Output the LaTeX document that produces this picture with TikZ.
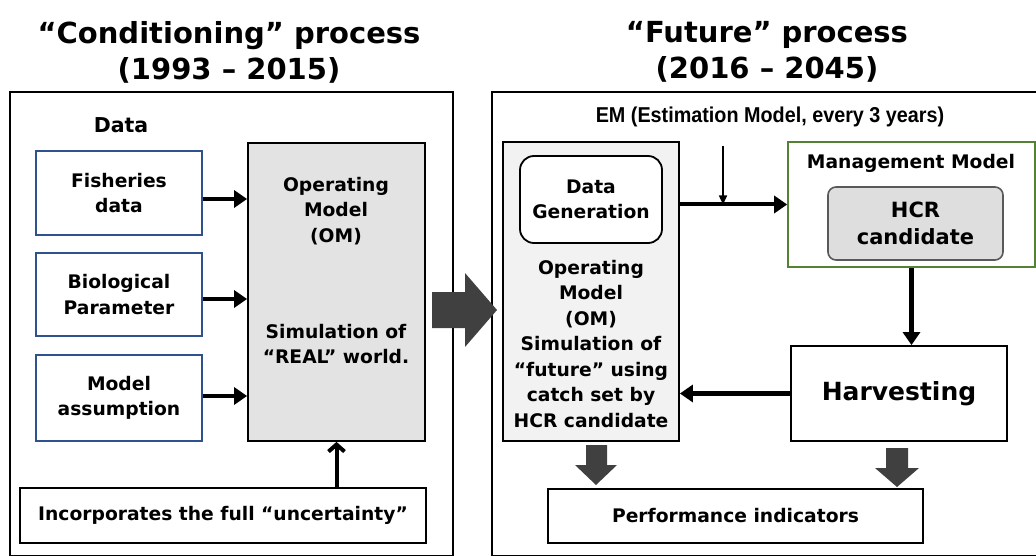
\documentclass[tikz,border=0pt]{standalone}
\usepackage{fontspec}
\setmainfont{DejaVu Sans}
\newfontfamily\narrowfont[FakeStretch=0.92]{Liberation Sans}
\usetikzlibrary{positioning,arrows.meta}
\definecolor{boxblue}{RGB}{47,82,143}
\definecolor{mgmtgreen}{RGB}{84,130,53}
\definecolor{blockgray}{RGB}{64,64,64}

\begin{document}
\begin{tikzpicture}[x=1pt,y=-1pt,
  every node/.style={font=\bfseries\fontsize{18.7}{25.5}\selectfont,align=center,inner sep=0pt},
  title/.style={font=\bfseries\fontsize{29}{36}\selectfont},
  frame/.style={draw,line width=2.6pt},
  databox/.style={draw=boxblue,line width=1.6pt,minimum width=166pt},
  plainbox/.style={draw,line width=1.8pt},
  flow/.style={line width=4pt,-{Triangle[length=13pt,width=17pt]}},
  thinflow/.style={line width=1.5pt,-{Triangle[length=9pt,width=8pt]}},
  block/.style={fill=blockgray}]
    \useasboundingbox (0,0) rectangle (1036,556);
    % titles and frames
    \node[title] (condtitle) at (229,52) {“Conditioning” process\\(1993 – 2015)};
    \node[title] (futtitle) at (767,52) {“Future” process\\(2016 – 2045)};
    \draw[frame] (10,92) rectangle (453,556.5);
    \draw[frame] (492,92) rectangle (1045,556.5);
    % conditioning side
    \node[font=\bfseries\fontsize{20.5}{25}\selectfont] (datalabel) at (121,125) {Data};
    \node[databox,minimum height=84pt] (fish) at (119,193) {Fisheries\\data};
    \node[databox,minimum height=83pt] (bio) at (119,294.5) {Biological\\Parameter};
    \node[databox,minimum height=86pt] (assum) at (119,398) {Model\\assumption};
    \node[plainbox,fill=black!11,minimum width=177pt,minimum height=298pt] (omcond) at (336.5,292) {};
    \node (omname) at (336,211) {Operating\\Model\\(OM)};
    \node (omreal) at (336,344) {Simulation of\\“REAL” world.};
    \node[plainbox,minimum width=406pt,minimum height=55pt] (uncert) at (223,515.5) {Incorporates the full “uncertainty”};
    \draw[flow] ([yshift=-6pt]fish.east) -- ([yshift=-6pt]fish.east -| omcond.west);
    \draw[flow] ([yshift=-4.5pt]bio.east) -- ([yshift=-4.5pt]bio.east -| omcond.west);
    \draw[flow] ([yshift=2pt]assum.east) -- ([yshift=2pt]assum.east -| omcond.west);
    \draw[line width=4pt,-{Straight Barb[length=7pt,width=16pt]}] (uncert.north -| omcond.south) -- (omcond.south);
    % big arrow between the two processes
    \fill[block] (432,292) -- (465,292) -- (465,273) -- (497,310) -- (465,347) -- (465,328) -- (432,328) -- cycle;
    % future side
    \node[font=\narrowfont\bfseries\fontsize{21.5}{25}\selectfont] (emlabel) at (770,117) {EM (Estimation Model, every 3 years)};
    \node[plainbox,fill=black!5,minimum width=176pt,minimum height=299pt] (omfut) at (591,291.5) {};
    \node[plainbox,fill=white,rounded corners=14pt,minimum width=142pt,minimum height=87pt] (datagen) at (591,199.5) {Data\\Generation};
    \node (omfutname) at (591,344) {Operating\\Model\\(OM)\\Simulation of\\“future” using\\catch set by\\HCR candidate};
    \node[draw=mgmtgreen,line width=1.6pt,minimum width=247pt,minimum height=125pt] (mgmt) at (911.5,204.5) {};
    \node (mgmtlabel) at (911,163) {Management Model};
    \node[draw=black!65,line width=1.6pt,fill=black!13,rounded corners=8pt,minimum width=175pt,minimum height=73pt,font=\bfseries\fontsize{21}{27}\selectfont] (hcr) at (915.5,223.5) {HCR\\candidate};
    \node[plainbox,minimum width=216pt,minimum height=95pt,font=\bfseries\fontsize{25}{30}\selectfont] (harvest) at (899,393.5) {Harvesting};
    \node[plainbox,minimum width=375pt,minimum height=54pt] (perf) at (735.5,516) {Performance indicators};
    \coordinate (emdrop) at (723,146);
    \draw[flow] (omfut.east |- mgmt.west) -- (mgmt.west);
    \draw[thinflow] (emdrop) -- (emdrop |- mgmt.west);
    \draw[flow,line width=5pt] (mgmt.south) -- (mgmt.south |- harvest.north);
    \draw[flow,line width=5pt] (harvest.west) -- (harvest.west -| omfut.east);
    \fill[block] (586,445) -- (607,445) -- (607,465) -- (617,465) -- (596,485) -- (575,465) -- (586,465) -- cycle;
    \fill[block] (886,448) -- (908,448) -- (908,468) -- (919,468) -- (897,487) -- (875,468) -- (886,468) -- cycle;
\end{tikzpicture}
\end{document}
